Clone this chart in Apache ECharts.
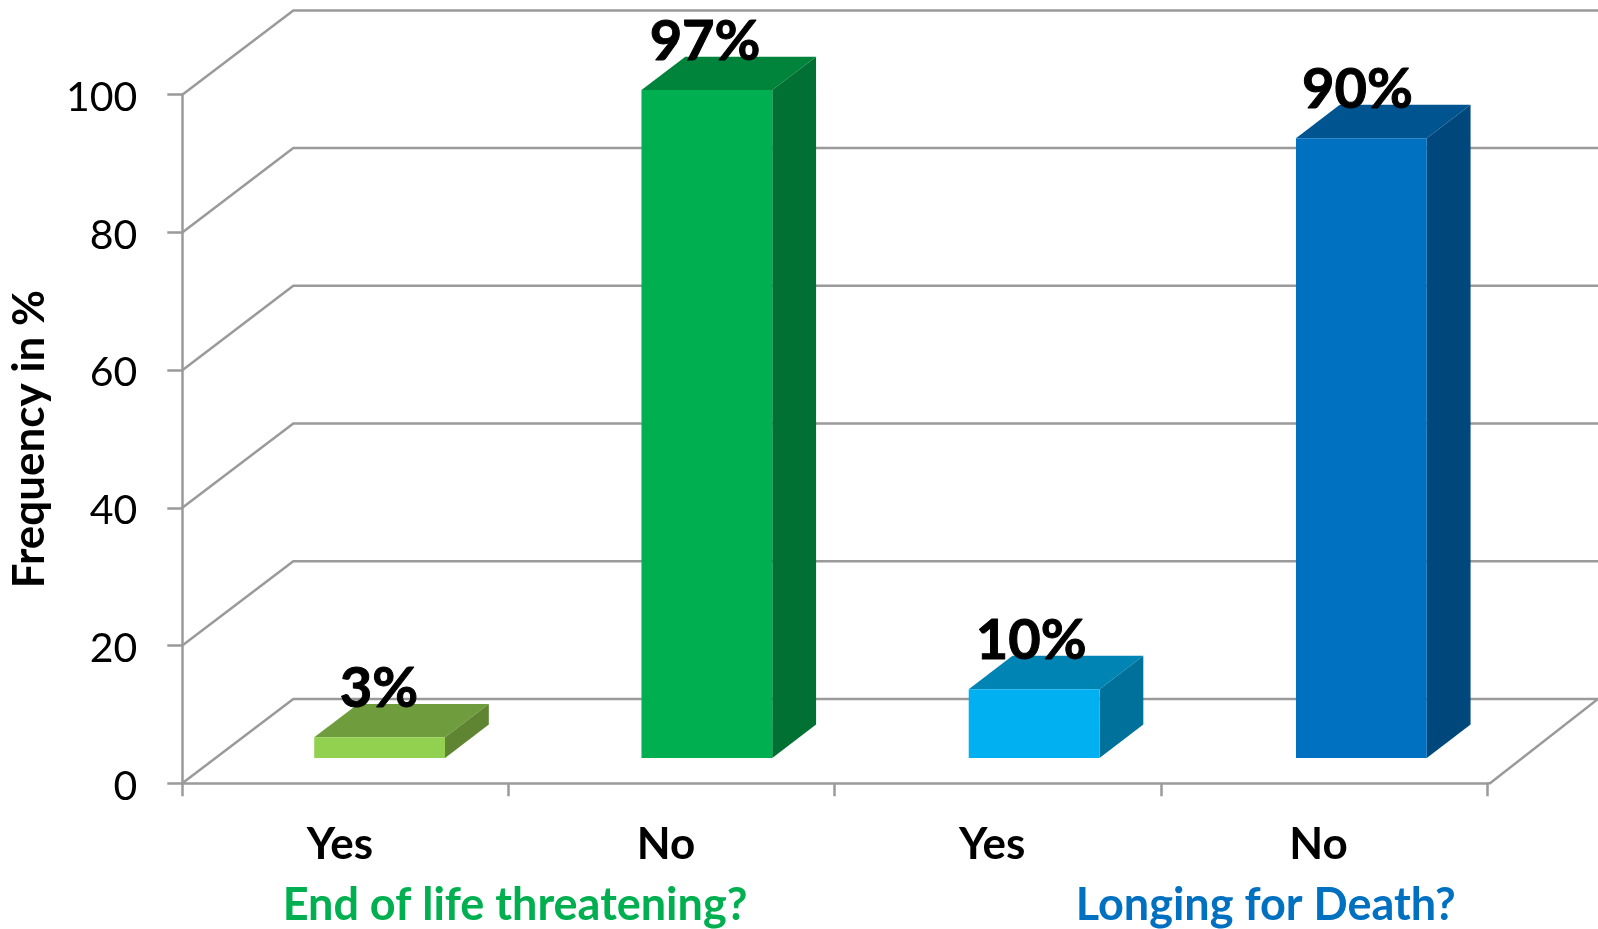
<!DOCTYPE html>
<html>
<head>
<meta charset="utf-8">
<style>html,body{margin:0;padding:0;background:#fff}#c{width:1598px;height:929px}</style>
<script src="https://cdn.jsdelivr.net/npm/echarts@6/dist/echarts.min.js"></script>
</head>
<body>
<div id="c"></div>
<script>
const categories = ['Yes', 'No', 'Yes', 'No'];
const values = [3, 97, 10, 90];
const yTicks = [0, 20, 40, 60, 80, 100];
const yAxisTitle = 'Frequency in %';
const groupLabels = ['End of life threatening?', 'Longing for Death?'];
const frontColors = ['#92D050', '#00B050', '#00B0F0', '#0070C0'];
const topColors = ['#6F9C3C', '#00843C', '#0084B4', '#005490'];
const sideColors = ['#5F8533', '#007133', '#00719B', '#00487C'];

const FONT = 'Lato, "Open Sans", sans-serif';
const LINE = '#9A9A9A';
const LINE_W = 2.5;
const WALL_DX = 111, WALL_DY = 84.3;
const BAR_W = 130.8, BAR_DX = 43.8, BAR_DY = 33.4;

const chart = echarts.init(document.getElementById('c'), null, {renderer: 'canvas'});

function renderWall(params, api) {
  const v = api.value(1);
  const y = api.coord([0, v])[1];
  const cs = params.coordSys;
  const x0 = cs.x, x1 = cs.x + cs.width;
  const children = [{
    type: 'polyline',
    shape: {points: [[x0, y], [x0 + WALL_DX, y - WALL_DY], [1598, y - WALL_DY]]},
    style: {stroke: LINE, lineWidth: LINE_W, fill: null}
  }];
  if (v === 0) {
    children.push({
      type: 'polyline',
      shape: {points: [[x1, y], [x1 + 3, y], [1598, y - WALL_DY]]},
      style: {stroke: LINE, lineWidth: LINE_W, fill: null}
    });
  }
  return {type: 'group', children};
}

function renderBar(params, api) {
  const i = api.value(0), v = api.value(1);
  const top = api.coord([i, v]);
  const base = api.coord([i, 0]);
  const l = top[0] - BAR_W / 2, r = top[0] + BAR_W / 2;
  const t = top[1], b = base[1];
  return {
    type: 'group',
    children: [
      {type: 'polygon', shape: {points: [[l, t], [r, t], [r + BAR_DX, t - BAR_DY], [l + BAR_DX, t - BAR_DY]]}, style: {fill: topColors[i]}},
      {type: 'polygon', shape: {points: [[r, t], [r + BAR_DX, t - BAR_DY], [r + BAR_DX, b - BAR_DY], [r, b]]}, style: {fill: sideColors[i]}},
      {type: 'rect', shape: {x: l, y: t, width: BAR_W, height: b - t}, style: {fill: frontColors[i]}}
    ]
  };
}

function renderValueLabel(params, api) {
  const v = api.value(1);
  const p = api.coord([api.value(0), v]);
  return {
    type: 'text',
    style: {text: v + '%', x: p[0] + 33.5, y: p[1] - 73.5, align: 'center', verticalAlign: 'middle', fill: '#000', stroke: '#000', lineWidth: 1, font: 'bold 56px ' + FONT}
  };
}

chart.setOption({
  animation: false,
  backgroundColor: '#fff',
  grid: [
    {left: 182.3, top: 94.7, width: 1304.7, height: 688.6, outerBoundsMode: 'none'},
    {left: 216, top: 69.4, width: 1309, height: 688.6, outerBoundsMode: 'none'}
  ],
  xAxis: [
    {
      type: 'category', gridIndex: 0, data: categories,
      axisLine: {lineStyle: {color: LINE, width: LINE_W}},
      axisTick: {show: true, length: 13, lineStyle: {color: LINE, width: LINE_W}},
      axisLabel: {color: '#000', fontFamily: FONT, fontWeight: 'bold', fontSize: 44, margin: 40, padding: [0, 11, 0, 0]}
    },
    {type: 'category', gridIndex: 1, data: categories, show: false}
  ],
  yAxis: [
    {
      type: 'value', gridIndex: 0, min: 0, max: 100, interval: 20,
      name: yAxisTitle, nameLocation: 'middle', nameRotate: 90, nameGap: 130,
      nameTextStyle: {color: '#000', fontFamily: FONT, fontWeight: 'bold', fontSize: 44},
      axisLine: {show: true, lineStyle: {color: LINE, width: LINE_W}},
      axisTick: {show: true, length: 15, lineStyle: {color: LINE, width: LINE_W}},
      axisLabel: {
        margin: 45,
        formatter: '{t|{value}}',
        rich: {t: {color: '#000', fontFamily: FONT, fontSize: 41, padding: [6, 0, 0, 0]}}
      },
      splitLine: {show: false}
    },
    {type: 'value', gridIndex: 1, min: 0, max: 100, interval: 20, show: false}
  ],
  series: [
    {
      type: 'custom', xAxisIndex: 0, yAxisIndex: 0, z: 1, clip: false,
      renderItem: renderWall,
      data: yTicks.map(v => [0, v])
    },
    {
      type: 'custom', xAxisIndex: 1, yAxisIndex: 1, z: 5, clip: false,
      renderItem: renderBar,
      data: values.map((v, i) => [i, v])
    },
    {
      type: 'custom', xAxisIndex: 0, yAxisIndex: 0, z: 6, clip: false,
      renderItem: renderValueLabel,
      data: values.map((v, i) => [i, v])
    }
  ],
  graphic: [
    {type: 'text', x: 515, y: 905.5, style: {text: groupLabels[0], align: 'center', verticalAlign: 'middle', fill: '#00B050', font: 'bold 45px ' + FONT}},
    {type: 'text', x: 1265.7, y: 905.5, style: {text: groupLabels[1], align: 'center', verticalAlign: 'middle', fill: '#0070C0', font: 'bold 45px ' + FONT}}
  ]
});
</script>
</body>
</html>
